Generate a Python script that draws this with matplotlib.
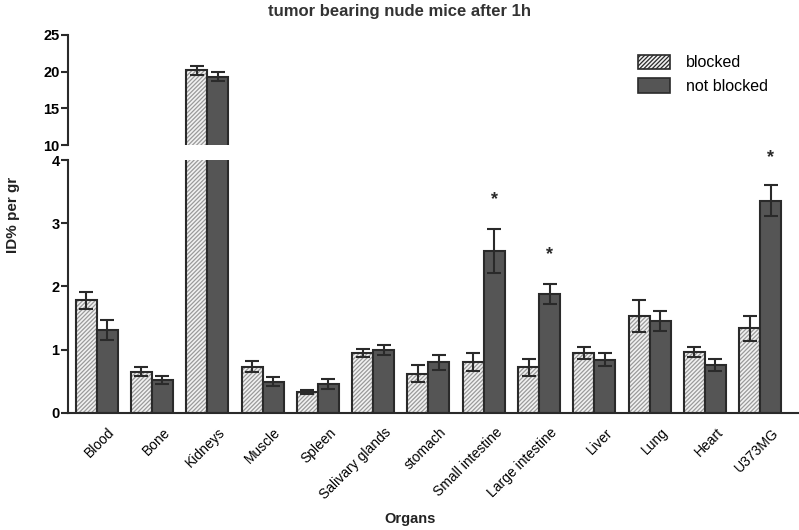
import matplotlib.pyplot as plt
import numpy as np
from matplotlib.patches import Patch

organs = ["Blood", "Bone", "Kidneys", "Muscle", "Spleen", "Salivary glands", "stomach",
          "Small intestine", "Large intestine", "Liver", "Lung", "Heart", "U373MG"]
blocked = [1.78, 0.65, 20.2, 0.73, 0.33, 0.95, 0.62, 0.81, 0.72, 0.95, 1.53, 0.97, 1.34]
blocked_err = [0.13, 0.07, 0.6, 0.09, 0.03, 0.06, 0.13, 0.14, 0.14, 0.10, 0.25, 0.08, 0.20]
not_blocked = [1.31, 0.52, 19.3, 0.49, 0.45, 1.00, 0.80, 2.56, 1.88, 0.84, 1.45, 0.76, 3.36]
not_blocked_err = [0.16, 0.06, 0.6, 0.07, 0.08, 0.08, 0.12, 0.35, 0.16, 0.10, 0.16, 0.10, 0.25]
star_organs = ["Small intestine", "Large intestine", "U373MG"]
star_heights = [3.37, 2.50, 4.04]

dark = "#555555"
edge = "#2a2a2a"
plt.rcParams["font.family"] = ["Liberation Sans", "DejaVu Sans"]
plt.rcParams["hatch.linewidth"] = 0.9

fig = plt.figure(figsize=(7.99, 5.30), dpi=100)
ax_top = fig.add_axes([0.085, 0.726, 0.915, 0.208])
ax_bot = fig.add_axes([0.085, 0.221, 0.915, 0.477])

x = np.arange(len(organs))
w = 0.38

for ax in (ax_top, ax_bot):
    # hatched fill in light gray, then dark outline on top
    ax.bar(x - w / 2, blocked, w, color="#f2f2f2", edgecolor="#9a9a9a", hatch="////////", linewidth=0)
    ax.bar(x - w / 2, blocked, w, color="none", edgecolor=edge, linewidth=1.5)
    ax.bar(x + w / 2, not_blocked, w, color=dark, edgecolor=edge, linewidth=1.5)
    ax.errorbar(x - w / 2, blocked, yerr=blocked_err, fmt="none", ecolor=edge, elinewidth=1.5,
                capsize=5, capthick=1.5)
    ax.errorbar(x + w / 2, not_blocked, yerr=not_blocked_err, fmt="none", ecolor=edge, elinewidth=1.5,
                capsize=5, capthick=1.5)
    ax.set_xlim(-0.52, 12.7)
    for s in ("top", "right"):
        ax.spines[s].set_visible(False)
    ax.spines["left"].set_linewidth(1.5)
    ax.spines["left"].set_color(edge)
    ax.tick_params(axis="y", labelsize=10.5, width=1.5, length=5, color=edge, pad=1)

ax_top.set_ylim(10, 25)
ax_top.set_yticks([10, 15, 20, 25])
ax_top.spines["bottom"].set_visible(False)
ax_top.set_xticks([])

ax_bot.set_ylim(0, 4)
ax_bot.set_yticks([0, 1, 2, 3, 4])
ax_bot.spines["bottom"].set_linewidth(1.5)
ax_bot.spines["bottom"].set_color(edge)
ax_bot.set_xticks(x + 0.2)
ax_bot.set_xticklabels(organs, rotation=45, ha="right", rotation_mode="anchor", fontsize=10)
ax_bot.tick_params(axis="x", length=0, pad=9)

for lab in ax_top.get_yticklabels() + ax_bot.get_yticklabels():
    lab.set_fontweight("bold")

for name, h in zip(star_organs, star_heights):
    i = organs.index(name)
    ax_bot.text(i + w / 2, h, "*", ha="center", va="center", fontsize=13, fontweight="bold",
                color=edge, clip_on=False)

# legend
handles = [Patch(facecolor="#f2f2f2", edgecolor=edge, hatch="////////", linewidth=1.2, label="blocked"),
           Patch(facecolor=dark, edgecolor=edge, linewidth=1.2, label="not blocked")]
ax_top.legend(handles=handles, loc="upper left", bbox_to_anchor=(0.76, 0.95), frameon=False,
              fontsize=11.5, handlelength=2.0, handleheight=1.0, labelspacing=0.5, handletextpad=1.0)

fig.text(0.5, 0.978, "tumor bearing nude mice after 1h", ha="center", va="center",
         fontsize=12, fontweight="bold", color="#333333")
fig.text(0.016, 0.595, "ID% per gr", rotation=90, ha="center", va="center",
         fontsize=11, fontweight="bold", color="#222222")
fig.text(0.513, 0.02, "Organs", ha="center", va="center", fontsize=10.5, fontweight="bold", color="#222222")

fig.savefig("out.png", dpi=100)
